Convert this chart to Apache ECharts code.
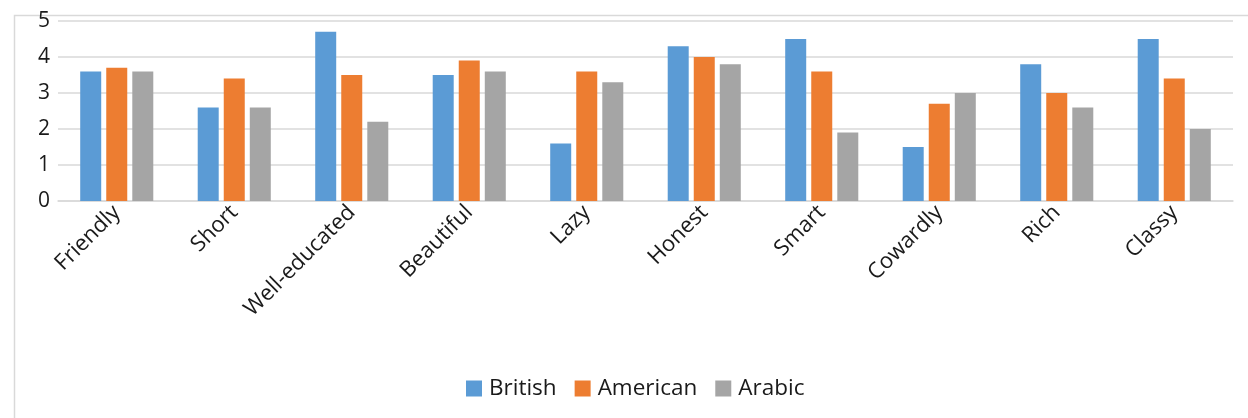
<!DOCTYPE html>
<html>
<head>
<meta charset="utf-8">
<script src="https://cdn.jsdelivr.net/npm/echarts@6/dist/echarts.min.js"></script>
<style>
html,body{margin:0;padding:0;background:#fff;}
#chart{width:1248px;height:418px;}
</style>
</head>
<body>
<div id="chart"></div>
<script>
const categories = ['Friendly','Short','Well-educated','Beautiful','Lazy','Honest','Smart','Cowardly','Rich','Classy'];
const seriesNames = ['British','American','Arabic'];
const british  = [3.6, 2.6, 4.7, 3.5, 1.6, 4.3, 4.5, 1.5, 3.8, 4.5];
const american = [3.7, 3.4, 3.5, 3.9, 3.6, 4.0, 3.6, 2.7, 3.0, 3.4];
const arabic   = [3.6, 2.6, 2.2, 3.6, 3.3, 3.8, 1.9, 3.0, 2.6, 2.0];
const yTicks = [0, 1, 2, 3, 4, 5];

const colors = ['#5B9BD5', '#ED7D31', '#A5A5A5'];
const font = '"Open Sans", "Noto Sans", sans-serif';
const chart = echarts.init(document.getElementById('chart'), null, {renderer: 'canvas'});
const values = [british, american, arabic];

chart.setOption({
  animation: false,
  color: colors,
  graphic: [{
    type: 'rect',
    left: 12, top: 13,
    shape: {width: 1400, height: 600},
    style: {fill: 'none', stroke: '#d9d9d9', lineWidth: 1.5},
    silent: true
  }],
  grid: {left: 58, right: 15, top: 21, bottom: 217},
  legend: {
    data: seriesNames,
    left: 461, top: 372,
    itemWidth: 16, itemHeight: 16, itemGap: 18,
    icon: 'rect',
    textStyle: {fontFamily: font, fontSize: 22.5, color: '#1a1a1a', padding: [0, 0, 0, 2]}
  },
  xAxis: {
    type: 'category',
    data: categories,
    axisLine: {show: true, lineStyle: {color: '#d9d9d9', width: 1.5}},
    axisTick: {show: false},
    axisLabel: {rotate: 45, fontFamily: font, fontSize: 22, color: '#1a1a1a', margin: 8, interval: 0}
  },
  yAxis: {
    type: 'value',
    min: yTicks[0], max: yTicks[yTicks.length - 1], interval: 1,
    axisLine: {show: false},
    axisTick: {show: false},
    splitLine: {lineStyle: {color: '#d9d9d9', width: 1.5}},
    axisLabel: {fontFamily: font, fontSize: 21, color: '#1a1a1a', margin: 8}
  },
  series: seriesNames.map((n, i) => ({
    name: n,
    type: 'bar',
    data: values[i],
    barWidth: 21,
    barGap: '24%',
    itemStyle: {color: colors[i]}
  }))
});
</script>
</body>
</html>
